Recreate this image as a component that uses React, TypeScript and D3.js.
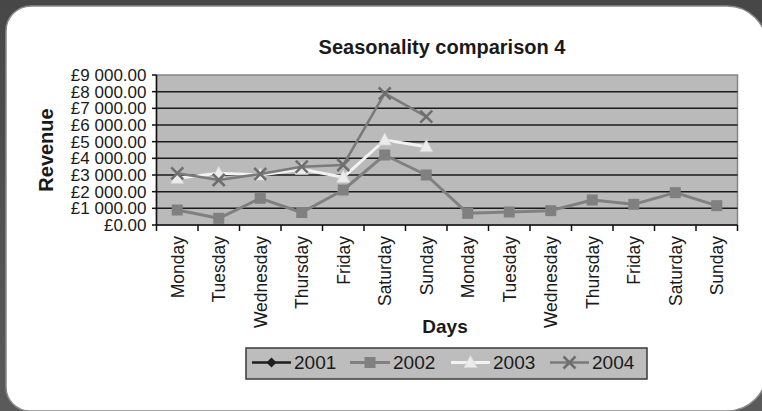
import React from "react";
import * as d3 from "d3";

// Weekday labels across two consecutive weeks
const days = [
  "Monday", "Tuesday", "Wednesday", "Thursday", "Friday", "Saturday", "Sunday",
  "Monday", "Tuesday", "Wednesday", "Thursday", "Friday", "Saturday", "Sunday",
];

const years = ["2001", "2002", "2003", "2004"];

// Revenue per day (null = no figure recorded)
const rev2001: (number | null)[] = [
  null, null, null, null, null, null, null, null, null, null, null, null, null, null,
];
const rev2002: (number | null)[] = [
  900, 400, 1600, 750, 2100, 4200, 3000, 700, 780, 860, 1500, 1240, 1940, 1160,
];
const rev2003: (number | null)[] = [
  2800, 3100, 3000, 3340, 2860, 5100, 4700, null, null, null, null, null, null, null,
];
const rev2004: (number | null)[] = [
  3100, 2700, 3060, 3500, 3600, 7900, 6500, null, null, null, null, null, null, null,
];

const yTicks = [0, 1000, 2000, 3000, 4000, 5000, 6000, 7000, 8000, 9000];

const W = 762;
const H = 411;
const FONT = "'Liberation Sans', Arial, Helvetica, sans-serif";

const plot = { left: 156.5, right: 737.5, top: 75, bottom: 225 };

const gbp = d3.formatLocale({
  decimal: ".",
  thousands: " ",
  grouping: [3],
  currency: ["£", ""],
});
const fmt = gbp.format("$,.2f");

type Style = {
  stroke: string;
  width: number;
  marker: "diamond" | "square" | "triangle" | "cross";
  fill: string;
};

const styles: Style[] = [
  { stroke: "#1e1e1e", width: 2.5, marker: "diamond", fill: "#1e1e1e" },
  { stroke: "#808080", width: 3, marker: "square", fill: "#808080" },
  { stroke: "#f2f2f2", width: 3, marker: "triangle", fill: "#ececec" },
  { stroke: "#7a7a7a", width: 2.5, marker: "cross", fill: "none" },
];

function Marker({ x, y, s }: { x: number; y: number; s: Style }) {
  if (s.marker === "square") {
    return <rect x={x - 5.5} y={y - 5.5} width={11} height={11} fill={s.fill} />;
  }
  if (s.marker === "diamond") {
    return (
      <path d={`M${x},${y - 5}L${x + 5},${y}L${x},${y + 5}L${x - 5},${y}Z`} fill={s.fill} />
    );
  }
  if (s.marker === "triangle") {
    return (
      <path
        d={`M${x},${y - 7}L${x + 6.5},${y + 5}L${x - 6.5},${y + 5}Z`}
        fill={s.fill}
        stroke="#d4d4d4"
        strokeWidth={0.8}
      />
    );
  }
  return (
    <path
      d={`M${x - 6},${y - 6}L${x + 6},${y + 6}M${x - 6},${y + 6}L${x + 6},${y - 6}`}
      stroke="#6e6e6e"
      strokeWidth={2.5}
      fill="none"
    />
  );
}

export default function App() {
  const series = [rev2001, rev2002, rev2003, rev2004];
  const idx = days.map((_, i) => String(i));

  const x = d3.scaleBand<string>().domain(idx).range([plot.left, plot.right]);
  const cx = (i: number) => (x(String(i)) as number) + x.bandwidth() / 2;
  const y = d3.scaleLinear().domain([0, 9000]).range([plot.bottom, plot.top]);

  const line = d3
    .line<number | null>()
    .defined((d) => d !== null)
    .x((_, i) => cx(i))
    .y((d) => y(d as number));

  const legendItems = [
    { x0: 252, x1: 291, tx: 294 },
    { x0: 350, x1: 390, tx: 393 },
    { x0: 451, x1: 490, tx: 493 },
    { x0: 550, x1: 589, tx: 592 },
  ];
  const legendY = 362.5;

  const frame =
    "M6,31 A25,25 0 0 1 31,6 L727,6 A40,40 0 0 1 767,46 L767,371 A40,40 0 0 1 727,411 " +
    "L30,411 A24,24 0 0 1 6,387 Z";

  return (
    <svg
      width={W}
      height={H}
      style={{ position: "absolute", left: 0, top: 0, display: "block" }}
      fontFamily={FONT}
    >
      <defs>
        <linearGradient id="bg" x1="0" y1="0" x2="0" y2="1">
          <stop offset="0" stopColor="#474747" />
          <stop offset="1" stopColor="#5a5a5a" />
        </linearGradient>
      </defs>
      <rect width={W} height={H} fill="url(#bg)" />
      <path d={frame} fill="#ffffff" stroke="#8a8a8a" strokeWidth={1.5} />

      {/* title */}
      <text x={442} y={54} textAnchor="middle" fontSize={20} fontWeight="bold" fill="#1a1a1a">
        Seasonality comparison 4
      </text>

      {/* plot background */}
      <rect
        x={plot.left}
        y={plot.top}
        width={plot.right - plot.left}
        height={plot.bottom - plot.top}
        fill="#bababa"
        stroke="#858585"
        strokeWidth={1.5}
      />

      {/* horizontal gridlines */}
      {yTicks
        .filter((t) => t > 0 && t < 9000)
        .map((t) => (
          <line
            key={`g${t}`}
            x1={plot.left}
            x2={plot.right}
            y1={y(t)}
            y2={y(t)}
            stroke="#1a1a1a"
            strokeWidth={1.5}
          />
        ))}

      {/* y axis */}
      <line x1={plot.left} x2={plot.left} y1={plot.top} y2={plot.bottom} stroke="#111" strokeWidth={1.5} />
      {yTicks.map((t) => (
        <g key={`y${t}`}>
          <line x1={plot.left - 4.5} x2={plot.left} y1={y(t)} y2={y(t)} stroke="#111" strokeWidth={1.5} />
          <text
            x={plot.left - 10}
            y={y(t)}
            dy="0.36em"
            textAnchor="end"
            fontSize={17}
            fill="#1a1a1a"
          >
            {fmt(t)}
          </text>
        </g>
      ))}

      {/* x axis */}
      <line x1={plot.left} x2={plot.right} y1={plot.bottom} y2={plot.bottom} stroke="#111" strokeWidth={1.5} />
      {d3.range(days.length + 1).map((i) => {
        const xx = plot.left + i * x.bandwidth();
        return (
          <line key={`t${i}`} x1={xx} x2={xx} y1={plot.bottom} y2={plot.bottom + 6} stroke="#111" strokeWidth={1.5} />
        );
      })}
      {days.map((d, i) => (
        <text
          key={`c${i}`}
          transform={`translate(${cx(i)},236) rotate(-90)`}
          dy="0.36em"
          textAnchor="end"
          fontSize={17.5}
          fill="#1a1a1a"
        >
          {d}
        </text>
      ))}

      {/* axis titles */}
      <text
        x={(plot.left + plot.right) / 2 - 2}
        y={333}
        textAnchor="middle"
        fontSize={19}
        fontWeight="bold"
        fill="#1a1a1a"
      >
        Days
      </text>
      <text
        transform={`translate(46,${(plot.top + plot.bottom) / 2}) rotate(-90)`}
        dy="0.36em"
        textAnchor="middle"
        fontSize={20}
        fontWeight="bold"
        fill="#1a1a1a"
      >
        Revenue
      </text>

      {/* series */}
      {series.map((vals, k) => (
        <g key={`s${k}`}>
          <path d={line(vals) || ""} fill="none" stroke={styles[k].stroke} strokeWidth={styles[k].width} strokeLinejoin="round" />
          {vals.map((v, i) =>
            v === null ? null : <Marker key={i} x={cx(i)} y={y(v)} s={styles[k]} />
          )}
        </g>
      ))}

      {/* legend */}
      <rect x={246} y={348} width={401} height={31} fill="#bdbdbd" stroke="#3a3a3a" strokeWidth={1.5} />
      {years.map((yr, k) => {
        const it = legendItems[k];
        const s = styles[k];
        const mx = (it.x0 + it.x1) / 2;
        return (
          <g key={yr}>
            <line x1={it.x0} x2={it.x1} y1={legendY} y2={legendY} stroke={s.stroke} strokeWidth={s.width} />
            <Marker x={mx} y={legendY} s={s} />
            <text x={it.tx} y={legendY} dy="0.36em" fontSize={19} fill="#1a1a1a">
              {yr}
            </text>
          </g>
        );
      })}
    </svg>
  );
}
